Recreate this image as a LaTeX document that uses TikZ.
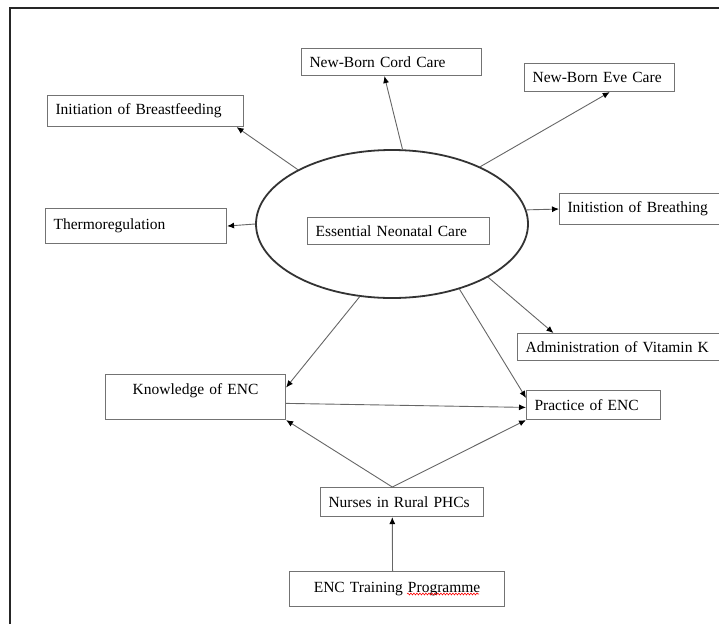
\documentclass[tikz,border=0pt]{standalone}
\usepackage{fontspec}
\setmainfont{Liberation Serif}
\usetikzlibrary{shapes.geometric,arrows.meta,decorations.pathmorphing}

\begin{document}
\begin{tikzpicture}[x=1pt, y=-1pt,
    box/.style={draw=black!55, line width=1.1pt, rectangle, anchor=north west, align=left,
        inner xsep=8pt, inner ysep=0pt, font=\fontsize{15.5}{18}\selectfont},
    link/.style={draw=black!60, line width=0.9pt},
    >={Latex[length=7pt,width=6pt,color=black]}]
    \useasboundingbox (0,0) rectangle (719,624);

    % Frame of the figure
    \draw[line width=1.5pt, black!85] (10,624) -- (10,8) -- (719,8);

    % Define nodes for the diagram
    \node[ellipse, draw=black!80, line width=1.8pt, minimum width=272pt, minimum height=148pt, inner sep=0pt] (enc) at (392,224) {};
    \node[box, text width=166pt, minimum height=27pt] (encbox) at (307,217) {Essential Neonatal Care};

    \node[box, text width=164pt, minimum height=27pt] (cord) at (301,48) {New-Born Cord Care};
    \node[box, text width=134pt, minimum height=28pt] (eve) at (524,63) {New-Born Eve Care};
    \node[box, text width=180pt, minimum height=31pt] (bf) at (47,95) {Initiation of Breastfeeding};
    \node[box, text width=165pt, minimum height=35pt] (thermo) at (45,208) {Thermoregulation};
    \node[box, text width=146pt, minimum height=31pt] (breath) at (559,193) {Initistion of Breathing};
    \node[box, text width=188pt, minimum height=27pt] (vitk) at (517,333) {Administration of Vitamin K};

    \node[box, text width=164pt, minimum height=45pt, align=center, text depth=16pt] (know) at (105,374) {Knowledge of ENC};
    \node[box, text width=118pt, minimum height=29pt] (prac) at (526,390) {Practice of ENC};
    \node[box, text width=147pt, minimum height=29pt] (nurse) at (320,487) {Nurses in Rural PHCs};
    \node[box, text width=199pt, minimum height=35pt, align=center] (train) at (289,571) {ENC Training Programme};

    % Draw the connections from the centre
    \draw[link, ->] (enc.150) -- (bf.-10);
    \draw[link, ->] (enc.82) -- (cord.243);
    \draw[link, ->] (enc.33) -- (eve.-55);
    \draw[link, ->] (enc.180) -- (thermo.east);
    \draw[link, ->] (enc.6) -- (breath.west);
    \draw[link, ->] (enc.-29) -- (vitk.168);
    \draw[link, ->] (enc.246) -- (know.6);
    \draw[link, ->] (enc.-44) -- (prac.174);

    % Draw the lower connections
    \draw[link, ->] (know.-4) -- (prac.182);
    \draw[link, ->] (nurse.123) -- (know.south east);
    \draw[link, ->] (nurse.123) -- (prac.south west);
    \draw[link, ->] (train.104) -- (nurse.237);

    % spell-check mark under the last word
    \draw[red, line width=0.6pt, decorate, decoration={snake, amplitude=0.9pt, segment length=3pt}] (407,594) -- (479,594);
\end{tikzpicture}
\end{document}
